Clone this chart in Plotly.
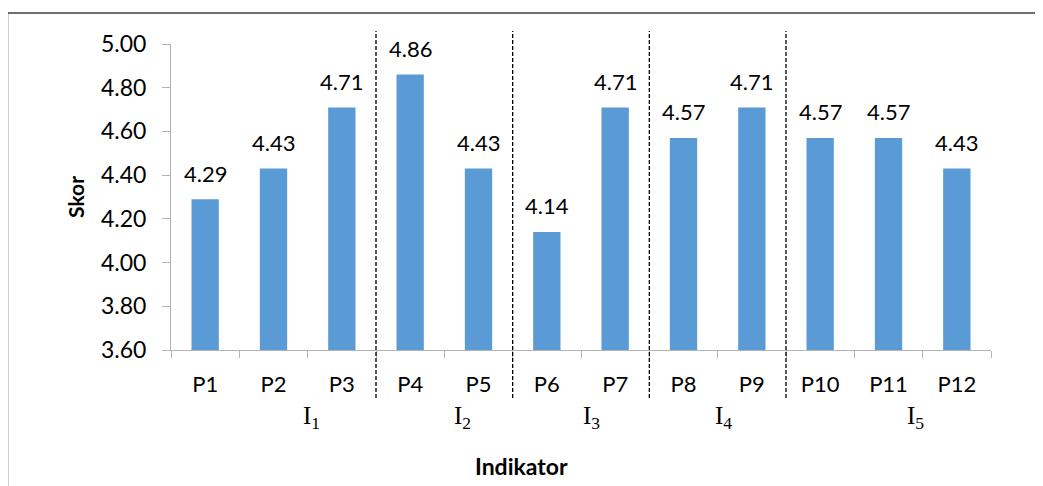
import plotly.graph_objects as go

# ---- data ----
categories = ["P1", "P2", "P3", "P4", "P5", "P6", "P7", "P8", "P9", "P10", "P11", "P12"]
scores = [4.29, 4.43, 4.71, 4.86, 4.43, 4.14, 4.71, 4.57, 4.71, 4.57, 4.57, 4.43]
group_names = ["1", "2", "3", "4", "5"]
group_sizes = [3, 2, 2, 2, 3]
y_ticks = [3.6, 3.8, 4.0, 4.2, 4.4, 4.6, 4.8, 5.0]
x_title = "Indikator"
y_title = "Skor"

# ---- layout constants ----
group_label_x = [1.55, 3.76, 5.66, 7.58, 10.39]
OFF = 8  # page body margin
W, H = 1043, 486
L, T = 171 - OFF, 44 - OFF
PR, PB = 991 - OFF, 350 - OFF
R, B = W - PR, H - PB
pw, ph = PR - L, PB - T

def px2x(px):
    return (px - OFF - L) / pw

def px2y(py):
    return (PB - (py - OFF)) / ph

tick_font = dict(family="Lato, Open Sans, sans-serif", size=22, color="#000000")
ytick_font = dict(family="Lato, Open Sans, sans-serif", size=23, color="#000000")
axis_grey = "#b3b3b3"
bar_color = "#5B9BD5"

fig = go.Figure()
fig.add_trace(go.Bar(
    x=categories, y=scores, marker=dict(color=bar_color, line=dict(width=0)),
    width=0.4, hoverinfo="x+y", showlegend=False,
))

annotations = []
for c, v in zip(categories, scores):
    annotations.append(dict(
        x=c, y=v, xref="x", yref="y", text=f"{v:.2f}", showarrow=False,
        yanchor="middle", yshift=26, font=tick_font,
    ))

for name, gx in zip(group_names, group_label_x):
    annotations.append(dict(
        x=gx, y=px2y(417), xref="x", yref="paper",
        text=f"I<sub>{name}</sub>", showarrow=False, yanchor="middle",
        font=dict(family="Liberation Serif, Times New Roman, serif", size=25, color="#000000"),
    ))

annotations.append(dict(
    x=px2x(521), y=px2y(466), xref="paper", yref="paper",
    text=f"<b>{x_title}</b>", showarrow=False, xanchor="center", yanchor="middle",
    font=dict(family="Lato, sans-serif", size=23, color="#000000"),
))

shapes = []
cum = 0
for gs in group_sizes[:-1]:
    cum += gs
    shapes.append(dict(
        type="line", xref="x", yref="paper", x0=cum - 0.5, x1=cum - 0.5,
        y0=px2y(398), y1=px2y(31),
        line=dict(color="#000000", width=1.3, dash="4px,2px"),
    ))

# outer frame (partially visible)
fx0, fy0 = px2x(7.5), px2y(13)
shapes.append(dict(
    type="path", xref="paper", yref="paper",
    path=f"M {px2x(1100)} {fy0} L {fx0} {fy0} L {fx0} {px2y(520)}",
    line=dict(color="#404040", width=1.5),
))
shapes.append(dict(
    type="rect", xref="paper", yref="paper",
    x0=px2x(0), x1=px2x(3), y0=px2y(5), y1=px2y(1),
    fillcolor="#000000", line=dict(width=0),
))

fig.update_layout(
    width=W, height=H,
    margin=dict(l=L, r=R, t=T, b=B, pad=0),
    paper_bgcolor="white", plot_bgcolor="white",
    bargap=0.6,
    annotations=annotations, shapes=shapes,
    xaxis=dict(
        type="category", showline=True, linecolor=axis_grey, linewidth=1,
        ticks="outside", tickson="boundaries", ticklen=7, tickcolor=axis_grey,
        tickfont=tick_font, showgrid=False, zeroline=False,
        ticklabelstandoff=15,
    ),
    yaxis=dict(
        range=[3.6, 5.0], tickvals=y_ticks, tickformat=".2f",
        showline=True, linecolor=axis_grey, linewidth=1,
        ticks="outside", ticklen=8, tickcolor=axis_grey,
        tickfont=ytick_font, showgrid=False, zeroline=False,
        ticklabelstandoff=11,
        title=dict(text=f"<b>{y_title}</b>", font=dict(family="Lato, sans-serif", size=21, color="#000000"), standoff=10),
    ),
)

fig.write_html("out.html")
